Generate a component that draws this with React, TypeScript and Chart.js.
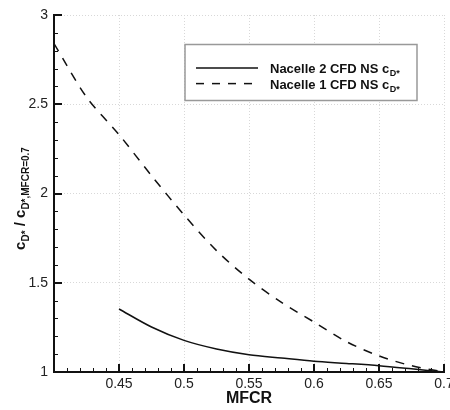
import React, { useEffect, useRef } from 'react';
import { Chart, registerables } from 'chart.js';

Chart.register(...registerables);

// ---- data ----
const mfcrNacelle2 = [0.45, 0.475, 0.5, 0.525, 0.55, 0.575, 0.6, 0.625, 0.65, 0.675, 0.7];
const cdRatioNacelle2 = [1.353, 1.252, 1.177, 1.129, 1.097, 1.078, 1.06, 1.048, 1.035, 1.018, 1.0];
const mfcrNacelle1 = [0.4, 0.425, 0.45, 0.475, 0.5, 0.525, 0.55, 0.575, 0.6, 0.625, 0.65, 0.675, 0.7];
const cdRatioNacelle1 = [2.84, 2.54, 2.33, 2.1, 1.88, 1.68, 1.52, 1.39, 1.28, 1.17, 1.09, 1.035, 1.0];

const xTickValues = [0.4, 0.45, 0.5, 0.55, 0.6, 0.65, 0.7];
const yTickValues = [1, 1.5, 2, 2.5, 3];
const legendLabels = ['Nacelle 2 CFD NS c', 'Nacelle 1 CFD NS c'];
const legendSub = 'D*';
const xTitle = 'MFCR';
const yTitleParts = [
  { text: 'c', sub: false },
  { text: 'D*', sub: true },
  { text: ' / c', sub: false },
  { text: 'D*,MFCR=0.7', sub: true },
];

const FONT = '"Liberation Sans", Arial, Helvetica, sans-serif';
const INK = '#111';

const decorPlugin = {
  id: 'decor',
  afterDraw(chart: any) {
    const { ctx, chartArea, scales } = chart;
    const { left, right, top, bottom } = chartArea;
    const x = scales.x;
    const y = scales.y;
    ctx.save();
    ctx.strokeStyle = INK;
    // x ticks (inward)
    for (let i = 1; i <= 30; i++) {
      const v = 0.4 + i * 0.01;
      const major = i % 5 === 0;
      const px = Math.round(x.getPixelForValue(v)) + (major ? 0 : 0.5);
      ctx.lineWidth = major ? 2 : 1;
      ctx.beginPath();
      ctx.moveTo(px, bottom);
      ctx.lineTo(px, bottom - (major ? 8 : 4));
      ctx.stroke();
    }
    // y ticks (inward)
    for (let i = 1; i <= 20; i++) {
      const v = 1 + i * 0.1;
      const major = i % 5 === 0;
      const py = Math.round(y.getPixelForValue(v)) + (major ? 0 : 0.5);
      ctx.lineWidth = major ? 2 : 1;
      ctx.beginPath();
      ctx.moveTo(left, py);
      ctx.lineTo(left + (major ? 8 : 4), py);
      ctx.stroke();
    }

    // y title with subscripts
    const mainFont = `bold 15px ${FONT}`;
    const subFont = `bold 10px ${FONT}`;
    let total = 0;
    const widths = yTitleParts.map((p) => {
      ctx.font = p.sub ? subFont : mainFont;
      const w = ctx.measureText(p.text).width;
      total += w;
      return w;
    });
    ctx.translate(left - 29, (top + bottom) / 2 + 5);
    ctx.rotate(-Math.PI / 2);
    ctx.fillStyle = INK;
    ctx.textBaseline = 'alphabetic';
    ctx.textAlign = 'left';
    let cx = -total / 2;
    yTitleParts.forEach((p, i) => {
      ctx.font = p.sub ? subFont : mainFont;
      ctx.fillText(p.text, cx, p.sub ? 4 : 0);
      cx += widths[i];
    });
    ctx.restore();

    // legend
    ctx.save();
    const bx = left + 131;
    const by = top + 29.5;
    const bw = 232;
    const bh = 56;
    ctx.fillStyle = '#fff';
    ctx.fillRect(bx, by, bw, bh);
    ctx.strokeStyle = '#999';
    ctx.lineWidth = 1.5;
    ctx.strokeRect(bx, by, bw, bh);
    chart.data.datasets.forEach((ds: any, i: number) => {
      const ly = by + 23.5 + i * 15.6;
      ctx.strokeStyle = ds.borderColor;
      ctx.lineWidth = ds.borderWidth;
      ctx.setLineDash(i === 1 ? [8, 8] : []);
      ctx.beginPath();
      ctx.moveTo(bx + 11, ly);
      ctx.lineTo(bx + 73, ly);
      ctx.stroke();
      ctx.setLineDash([]);
      ctx.fillStyle = INK;
      ctx.textAlign = 'left';
      ctx.textBaseline = 'alphabetic';
      ctx.font = `bold 13px ${FONT}`;
      const tx = bx + 85;
      ctx.fillText(legendLabels[i], tx, ly + 5);
      const w = ctx.measureText(legendLabels[i]).width;
      ctx.font = `bold 9px ${FONT}`;
      ctx.fillText(legendSub, tx + w + 0.5, ly + 8);
    });
    ctx.restore();
  },
};

export default function App() {
  const ref = useRef<HTMLCanvasElement | null>(null);
  useEffect(() => {
    if (!ref.current) return;
    const chart = new Chart(ref.current, {
      type: 'line',
      data: {
        datasets: [
          {
            label: legendLabels[0] + legendSub,
            data: mfcrNacelle2.map((m, i) => ({ x: m, y: cdRatioNacelle2[i] })),
            borderColor: INK,
            borderWidth: 1.5,
            pointRadius: 0,
            tension: 0.3,
            fill: false,
          },
          {
            label: legendLabels[1] + legendSub,
            data: mfcrNacelle1.map((m, i) => ({ x: m, y: cdRatioNacelle1[i] })),
            borderColor: INK,
            borderWidth: 1.5,
            borderDash: [9, 8],
            pointRadius: 0,
            tension: 0.3,
            fill: false,
          },
        ],
      },
      options: {
        animation: false,
        responsive: false,
        devicePixelRatio: 1,
        layout: { padding: { top: 15, right: 6, left: 0, bottom: 0 } },
        plugins: { legend: { display: false }, tooltip: { enabled: false } },
        scales: {
          x: {
            type: 'linear',
            min: 0.4,
            max: 0.7,
            afterBuildTicks: (s: any) => {
              s.ticks = xTickValues.map((v) => ({ value: v }));
            },
            afterFit: (s: any) => {
              s.height = 38;
              s.paddingLeft = 0;
              s.paddingRight = 0;
            },
            ticks: {
              autoSkip: false,
              maxRotation: 0,
              padding: 4,
              color: '#222',
              font: { family: FONT, size: 14 },
              callback: (v: any) => (Number(v) < 0.41 ? '' : String(+Number(v).toFixed(2))),
            },
            grid: { color: '#d8d8d8', lineWidth: 1, drawTicks: false },
            border: { display: true, color: INK, width: 2, dash: [1, 2] },
            title: {
              display: true,
              text: xTitle,
              color: INK,
              font: { family: FONT, size: 16, weight: 'bold' },
              padding: { top: 0, bottom: 2 },
            },
          },
          y: {
            type: 'linear',
            min: 1,
            max: 3,
            afterBuildTicks: (s: any) => {
              s.ticks = yTickValues.map((v) => ({ value: v }));
            },
            afterFit: (s: any) => {
              s.width = 54;
              s.paddingTop = 0;
              s.paddingBottom = 0;
            },
            ticks: {
              padding: 6,
              color: '#222',
              font: { family: FONT, size: 14 },
              callback: (v: any) => String(+Number(v).toFixed(1)),
            },
            grid: { color: '#d8d8d8', lineWidth: 1, drawTicks: false },
            border: { display: true, color: INK, width: 2, dash: [1, 2] },
          },
        },
      },
      plugins: [decorPlugin],
    } as any);
    return () => chart.destroy();
  }, []);
  return (
    <div style={{ position: 'absolute', left: 0, top: 0, width: 450, height: 410, background: '#fff' }}>
      <canvas ref={ref} width={450} height={410} />
    </div>
  );
}
